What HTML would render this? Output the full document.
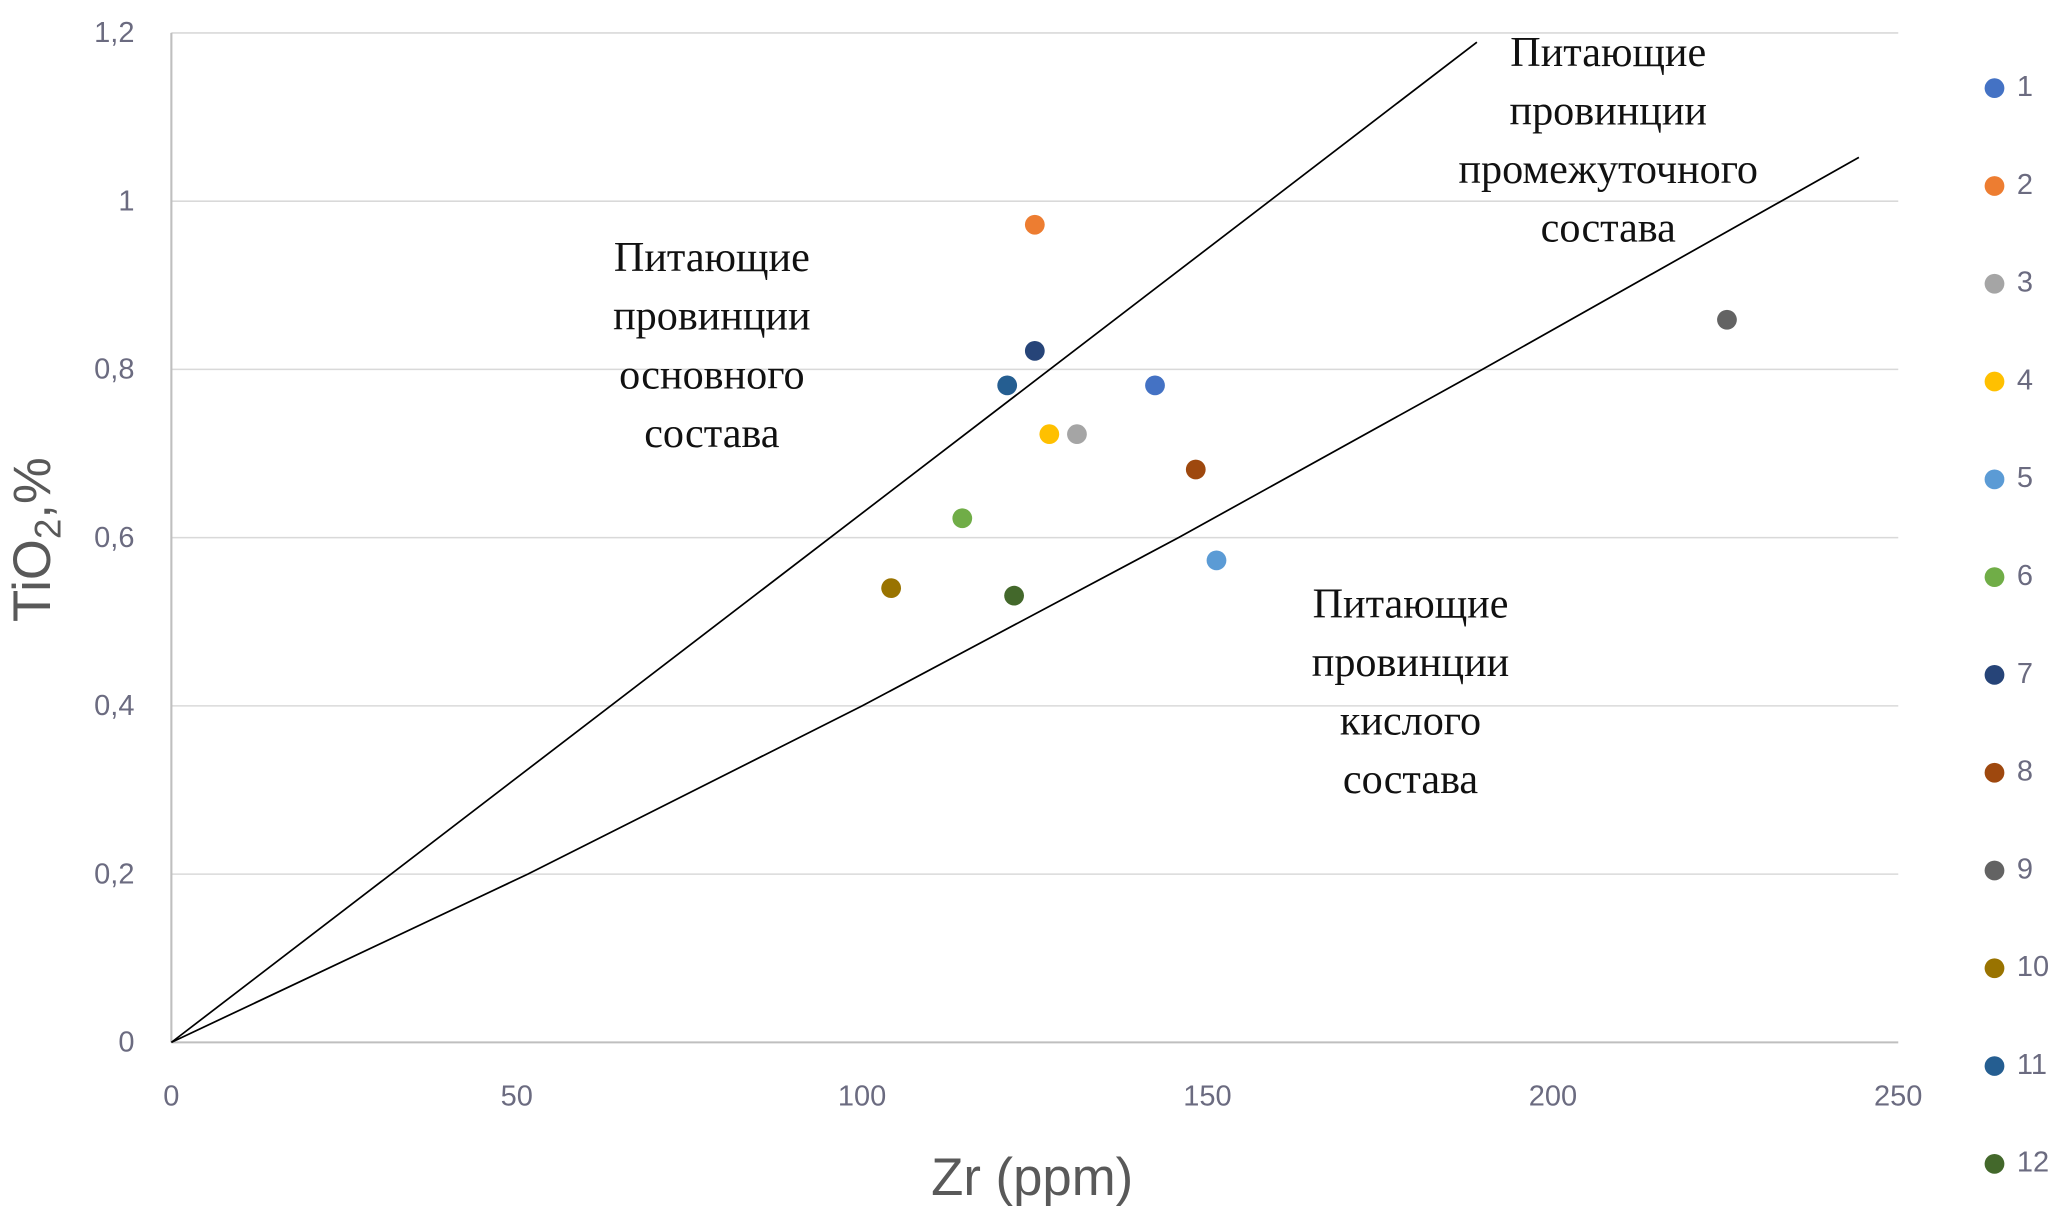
<!DOCTYPE html>
<html><head><meta charset="utf-8"><style>
html,body{margin:0;padding:0;background:#fff;}
svg{display:block;}
</style></head><body>
<svg id="chart" width="2067" height="1224" viewBox="0 0 1568 930" preserveAspectRatio="none" xmlns="http://www.w3.org/2000/svg"></svg>
<script>
const seriesNames = ["1","2","3","4","5","6","7","8","9","10","11","12"];
const zrValues = [142.4,125,131.1,127.1,151.3,114.5,125,148.3,225.2,104.2,121,122];
const tioValues = [0.781,0.972,0.723,0.723,0.573,0.623,0.822,0.681,0.859,0.540,0.781,0.531];
const seriesColors = ["#4472C4","#ED7D31","#A5A5A5","#FFC000","#5B9BD5","#70AD47","#264478","#9E480E","#636363","#997300","#255E91","#43682B"];
const xTicks = [0,50,100,150,200,250];
const yTicks = [0,0.2,0.4,0.6,0.8,1,1.2];
const yTickLabels = ["0","0,2","0,4","0,6","0,8","1","1,2"];
const basicLineZr = [0,189];
const basicLineTi = [0,1.189];
const acidLineZr = [0,51.6,100,145.8,189.8,244.3];
const acidLineTi = [0,0.2,0.4,0.6,0.8,1.052];

const NS="http://www.w3.org/2000/svg";
const svg=document.getElementById('chart');
const X0=130,X1=1440,Y0=792,Y1=25;
const xs=v=>X0+(v-0)/(250-0)*(X1-X0);
const ys=v=>Y0-(v-0)/(1.2-0)*(Y0-Y1);
function mk(tag,attrs,parent){const e=document.createElementNS(NS,tag);for(const k in attrs)e.setAttribute(k,attrs[k]);(parent||svg).appendChild(e);return e;}

const grid=mk('g',{});


yTicks.forEach((t,i)=>{
  const l=mk('line',{x1:X0,x2:X1,y1:ys(t),y2:ys(t),stroke:i===0?'#bfbfbf':'#d9d9d9','stroke-width':i===0?1.6:1.2},grid);
  
  
  const tx=mk('text',{x:X0-28,y:ys(t)+7,'text-anchor':'end','font-family':'Liberation Sans, sans-serif','font-size':22,fill:'#6b6b80'});
  tx.textContent=yTickLabels[i];
  
  
});
const ya=mk('line',{x1:X0,x2:X0,y1:Y1,y2:Y0,stroke:'#bfbfbf','stroke-width':1.6});


xTicks.forEach(t=>{
  const tx=mk('text',{x:xs(t),y:Y0+48,'text-anchor':'middle','font-family':'Liberation Sans, sans-serif','font-size':22,fill:'#6b6b80'});
  tx.textContent=String(t);
  
  
});

const bl=mk('polyline',{points:basicLineZr.map((z,i)=>xs(z)+','+ys(basicLineTi[i])).join(' '),fill:'none',stroke:'#000','stroke-width':1.3});


const al=mk('polyline',{points:acidLineZr.map((z,i)=>xs(z)+','+ys(acidLineTi[i])).join(' '),fill:'none',stroke:'#000','stroke-width':1.3});



zrValues.forEach((z,i)=>{
  const c=mk('circle',{cx:xs(z),cy:ys(tioValues[i]),r:7.5,fill:seriesColors[i]});
  
  
});

function block(lines,cx,ys0,name){
  const g=mk('g',{});
  
  
  lines.forEach((s,i)=>{
    const t=mk('text',{x:cx,y:ys0+i*44.5,'text-anchor':'middle','font-family':'Liberation Serif, DejaVu Serif, serif','font-size':32,fill:'#111'},g);
    t.textContent=s;
  });
}
block(["Питающие","провинции","основного","состава"],540,206,'label-basic-provinces');
block(["Питающие","провинции","промежуточного","состава"],1220,50,'label-intermediate-provinces');
block(["Питающие","провинции","кислого","состава"],1070,469,'label-acid-provinces');

const xt=mk('text',{x:783,y:908,'text-anchor':'middle','font-family':'Liberation Sans, sans-serif','font-size':40,fill:'#595959'});
xt.textContent='Zr (ppm)';


const yt=mk('text',{transform:'translate(38,410) rotate(-90)','text-anchor':'middle','font-family':'Liberation Sans, sans-serif','font-size':40,fill:'#595959'});
yt.innerHTML='TiO<tspan font-size="28" dy="8">2</tspan><tspan dy="-8">,%</tspan>';



const lg=mk('g',{});


seriesNames.forEach((n,i)=>{
  const y=65+i*74.3;
  const e=mk('g',{},lg);
  
  
  mk('circle',{cx:1513,cy:y+2,r:7.5,fill:seriesColors[i]},e);
  const t=mk('text',{x:1530,y:y+8,'font-family':'Liberation Sans, sans-serif','font-size':22,fill:'#6b6b80'},e);
  t.textContent=n;
});
</script>
</body></html>
